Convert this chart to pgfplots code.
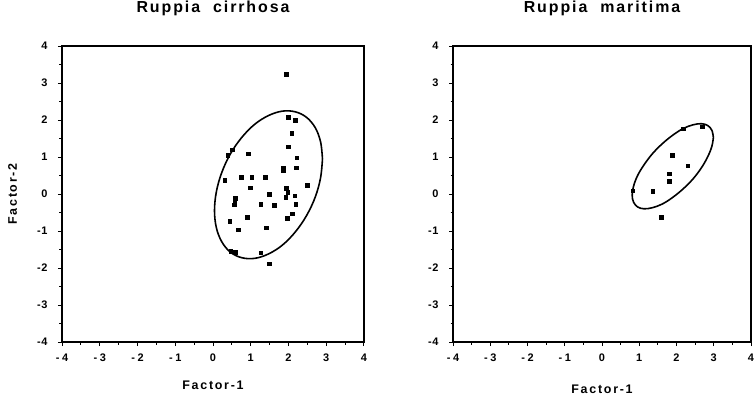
\documentclass[border=0pt]{standalone}
\usepackage{fontspec}
\setmainfont{Liberation Sans}
\usepackage{pgfplots}
\pgfplotsset{compat=1.18}

\pgfplotstableread{
x y
1.94 3.24
1.99 2.08
2.17 2.00
2.08 1.65
1.99 1.28
2.22 0.98
2.21 0.71
1.86 0.70
1.86 0.64
0.94 1.09
0.51 1.20
0.39 1.05
0.31 0.37
0.75 0.45
1.02 0.45
1.38 0.45
0.98 0.17
2.49 0.23
1.94 0.16
1.98 0.05
1.49 -0.01
2.16 -0.05
1.93 -0.08
0.59 -0.12
0.58 -0.24
0.56 -0.29
1.26 -0.28
1.62 -0.30
2.19 -0.28
0.90 -0.62
2.10 -0.53
1.96 -0.65
0.44 -0.73
0.67 -0.96
1.41 -0.91
0.47 -1.55
0.59 -1.57
1.26 -1.59
1.49 -1.88
}\cirrhosa

\pgfplotstableread{
x y
2.18 1.77
2.69 1.82
1.88 1.05
2.30 0.76
1.81 0.55
1.81 0.35
1.36 0.07
0.82 0.09
1.59 -0.62
}\maritima

\pgfplotstableread{
x y
2.90 0.95
2.85 1.41
2.71 1.79
2.48 2.07
2.185 2.22
1.84 2.24
1.47 2.12
1.10 1.88
0.755 1.52
0.459 1.08
0.232 0.58
0.089 0.06
0.04 -0.45
0.089 -0.91
0.232 -1.29
0.459 -1.57
0.755 -1.72
1.10 -1.74
1.47 -1.62
1.84 -1.38
2.185 -1.02
2.48 -0.58
2.71 -0.08
2.85 0.44
2.90 0.95
}\ellA

\pgfplotstableread{
x y
2.99 1.53
2.95 1.72
2.84 1.85
2.67 1.90
2.445 1.87
2.18 1.77
1.90 1.59
1.62 1.36
1.355 1.09
1.129 0.79
0.956 0.50
0.847 0.21
0.81 -0.03
0.847 -0.22
0.956 -0.35
1.129 -0.40
1.355 -0.37
1.62 -0.27
1.90 -0.09
2.18 0.14
2.445 0.41
2.67 0.71
2.84 1.01
2.95 1.29
2.99 1.53
}\ellB

\pgfplotsset{
  panel/.style={
    scale only axis, height=296bp,
    xmin=-4, xmax=4, ymin=-4, ymax=4,
    xtick={-4,...,4}, ytick={-4,...,4},
    xticklabels={-\hspace{2.5bp}4,-\hspace{2.5bp}3,-\hspace{2.5bp}2,-\hspace{2.5bp}1,0,1,2,3,4},
    yticklabels={-4,-3,-2,-1,0,1,2,3,4},
    minor tick num=1,
    tick align=outside, tick pos=left,
    major tick length=4bp, minor tick length=2.5bp,
    axis line style={line width=1.4pt},
    every tick/.style={black, line width=1pt},
    tick label style={font=\fontsize{11}{12}\selectfont\bfseries\addfontfeature{LetterSpace=6}},
    xticklabel style={yshift=-4bp},
    yticklabel style={xshift=-7bp},
    title style={at={(axis description cs:0.5,1)}, anchor=base, yshift=28bp,
      font=\fontsize{16}{19}\selectfont\bfseries\addfontfeature{LetterSpace=12}},
    label style={font=\fontsize{12.5}{14}\selectfont\bfseries\addfontfeature{LetterSpace=14}},
    xlabel={Factor-1},
  }
}

\begin{document}
\begin{tikzpicture}
\useasboundingbox (0,0) rectangle (755bp,402bp);
\begin{axis}[panel, width=302bp, at={(62bp,60bp)}, anchor=south west,
  title={Ruppia\hspace{13bp}cirrhosa},
  xlabel style={at={(axis description cs:0.5,0)}, anchor=base, yshift=-47bp},
  ylabel={Factor-2},
  ylabel style={at={([xshift=-45bp]axis description cs:0,0.5)}, anchor=base, rotate=0},
]
\addplot[only marks, mark=square*, mark size=1.8bp, black] table {\cirrhosa};
\addplot[black, line width=1.6pt, smooth, tension=0.6] table {\ellA};
\end{axis}
\begin{axis}[panel, width=298bp, at={(453bp,60bp)}, anchor=south west,
  title={Ruppia\hspace{13bp}maritima},
  xlabel style={at={(axis description cs:0.5,0)}, anchor=base, yshift=-51bp},
]
\addplot[only marks, mark=square*, mark size=1.8bp, black] table {\maritima};
\addplot[black, line width=1.6pt, smooth, tension=0.6] table {\ellB};
\end{axis}
\end{tikzpicture}
\end{document}
